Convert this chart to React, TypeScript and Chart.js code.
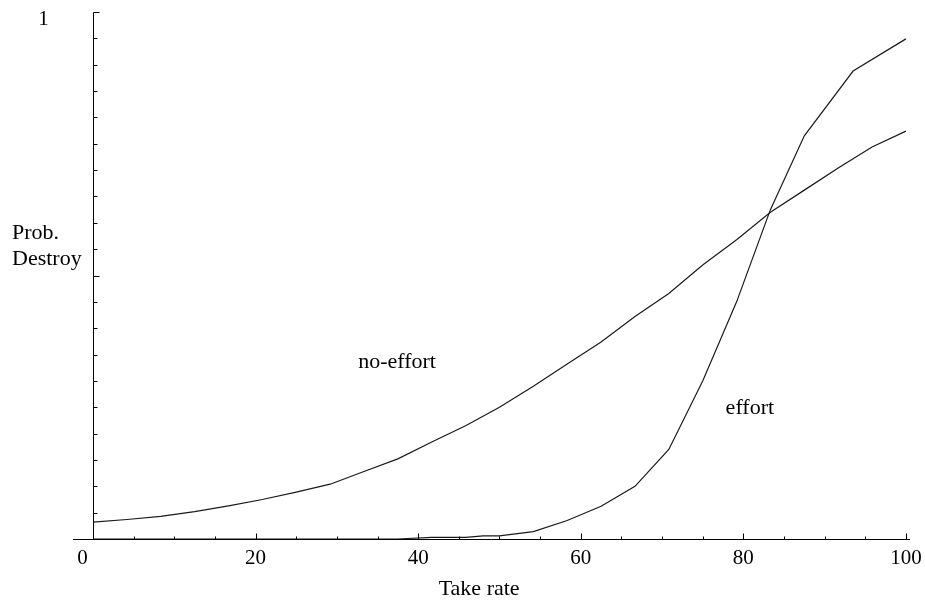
import React, { useEffect, useRef } from "react";
import { Chart, registerables } from "chart.js";

Chart.register(...registerables);

// ---- data ----
const takeRateNoEffort = [0, 4.17, 8.33, 12.5, 16.67, 20.83, 25, 29.17, 33.33, 37.5, 41.67, 45.83, 50, 54.17, 58.33, 62.5, 66.67, 70.83, 75, 79.17, 83.33, 87.5, 91.67, 95.83, 100];
const noEffort = [0.032, 0.037, 0.043, 0.052, 0.063, 0.075, 0.089, 0.104, 0.128, 0.152, 0.184, 0.215, 0.25, 0.29, 0.332, 0.374, 0.422, 0.466, 0.52, 0.568, 0.62, 0.662, 0.704, 0.744, 0.774];
const takeRateEffort = [0, 4.17, 8.33, 12.5, 16.67, 20.83, 25, 29.17, 33.33, 37.5, 41.67, 45.83, 48, 50, 54.17, 58.33, 62.5, 66.67, 70.83, 75, 79.17, 83.33, 87.5, 93.5, 100];
const effort = [0, 0, 0, 0, 0, 0, 0, 0, 0, 0, 0.003, 0.003, 0.006, 0.006, 0.014, 0.035, 0.062, 0.1, 0.17, 0.3, 0.45, 0.625, 0.765, 0.888, 0.949];

const xTickLabels = [20, 40, 60, 80, 100];
const yTickLabels = [1];
const originLabel = "0";
const xTitle = "Take rate";
const yTitle = ["Prob.", "Destroy"];
const curveLabels = [
  { text: "no-effort", x: 37.4, y: 0.336 },
  { text: "effort", x: 80.8, y: 0.249 },
];

const FONT = '22px "Liberation Serif", "Times New Roman", serif';
const TICK_FONT = '21px "Liberation Serif", "Times New Roman", serif';

const axesPlugin = {
  id: "mathAxes",
  afterDatasetsDraw(chart: any) {
    const { ctx, chartArea } = chart;
    const xs = chart.scales.x;
    const ys = chart.scales.y;
    const x0 = Math.round(xs.getPixelForValue(0)) + 0.5;
    const y0 = Math.round(ys.getPixelForValue(0)) + 0.5;
    const yTop = Math.round(ys.getPixelForValue(1)) + 0.5;
    ctx.save();
    ctx.strokeStyle = "#000";
    ctx.lineWidth = 1;
    ctx.beginPath();
    ctx.moveTo(chartArea.left, y0);
    ctx.lineTo(chartArea.right, y0);
    ctx.moveTo(x0, yTop);
    ctx.lineTo(x0, y0);
    // x ticks (inward, upward)
    for (let v = 5; v <= 100; v += 5) {
      const px = Math.round(xs.getPixelForValue(v)) + 0.5;
      const len = v % 20 === 0 ? 6 : 3;
      ctx.moveTo(px, y0);
      ctx.lineTo(px, y0 - len);
    }
    // y ticks (inward, rightward)
    for (let i = 1; i <= 20; i++) {
      const v = i * 0.05;
      const py = Math.round(ys.getPixelForValue(v)) + 0.5;
      const len = i % 10 === 0 ? 6 : 4;
      ctx.moveTo(x0, py);
      ctx.lineTo(x0 + len, py);
    }
    ctx.stroke();

    ctx.fillStyle = "#000";
    ctx.font = TICK_FONT;
    ctx.textBaseline = "middle";
    ctx.textAlign = "center";
    const labY = y0 + 19;
    xTickLabels.forEach((v) => {
      ctx.fillText(String(v), xs.getPixelForValue(v), labY);
    });
    ctx.fillText(originLabel, x0 - 11, labY);
    yTickLabels.forEach((v) => {
      ctx.fillText(String(v), x0 - 50, ys.getPixelForValue(v) + 7);
    });
    ctx.font = FONT;
    ctx.fillText(xTitle, xs.getPixelForValue(47.5), y0 + 50);
    ctx.textAlign = "left";
    ctx.fillText(yTitle[0], 12, 233);
    ctx.fillText(yTitle[1], 12, 259);
    ctx.textAlign = "center";
    curveLabels.forEach((l) => {
      ctx.fillText(l.text, xs.getPixelForValue(l.x), ys.getPixelForValue(l.y));
    });
    ctx.restore();
  },
};

export default function App() {
  const ref = useRef<HTMLCanvasElement | null>(null);
  useEffect(() => {
    if (!ref.current) return;
    const mk = (xv: number[], yv: number[]) => xv.map((x, i) => ({ x, y: yv[i] }));
    const chart = new Chart(ref.current, {
      type: "line",
      data: {
        datasets: [
          { label: "no-effort", data: mk(takeRateNoEffort, noEffort), borderColor: "#1a1a1a", borderWidth: 1.2, pointRadius: 0, tension: 0, clip: false, fill: false },
          { label: "effort", data: mk(takeRateEffort, effort), borderColor: "#1a1a1a", borderWidth: 1.2, pointRadius: 0, tension: 0, clip: false, fill: false },
        ],
      },
      options: {
        animation: false,
        responsive: false,
        events: [],
        layout: { padding: { left: 73, right: 15, top: 12, bottom: 73 } },
        plugins: { legend: { display: false }, tooltip: { enabled: false } },
        scales: {
          x: { type: "linear", min: -2.46, max: 100.5, display: false },
          y: { type: "linear", min: 0, max: 1, display: false },
        },
      },
      plugins: [axesPlugin],
    });
    return () => chart.destroy();
  }, []);
  return (
    <div style={{ position: "absolute", left: 0, top: 0, width: 925, height: 612, background: "#fff" }}>
      <canvas ref={ref} width={925} height={612} style={{ width: 925, height: 612, display: "block" }} />
    </div>
  );
}
